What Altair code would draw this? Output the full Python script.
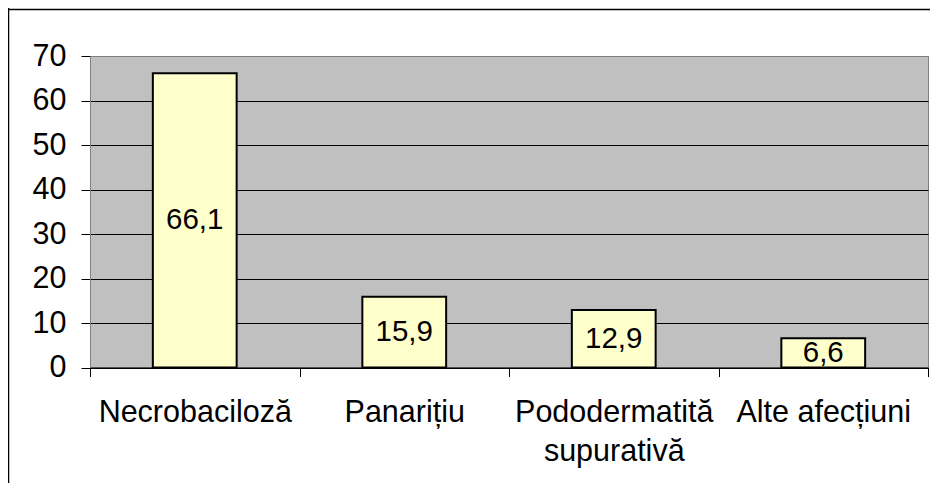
import altair as alt
import pandas as pd

categories = ["Necrobaciloză", "Panarițiu", "Pododermatită supurativă", "Alte afecțiuni"]
values = [66.1, 15.9, 12.9, 6.6]
y_ticks = [0, 10, 20, 30, 40, 50, 60, 70]

df = pd.DataFrame({"cat": categories, "val": values})

FONT = "Liberation Sans"
FS = 30.5

x_enc = alt.X(
    "cat:N",
    sort=categories,
    title=None,
    scale=alt.Scale(paddingInner=0, paddingOuter=0),
    axis=alt.Axis(
        labelAngle=0,
        tickBand="extent",
        ticks=True,
        tickSize=9,
        tickColor="black",
        domainColor="black",
        labelPadding=21,
        labelFontSize=FS,
        labelFont=FONT,
        labelColor="black",
        labelLineHeight=39,
        labelLimit=400,
        labelOverlap=False,
        labelExpr="datum.label == 'Pododermatită supurativă' ? ['Pododermatită', 'supurativă'] : datum.label",
        grid=False,
    ),
)

y_scale = alt.Scale(domain=[0, 70], nice=False)

bars = alt.Chart(df).mark_bar(
    fill="#FFFFCC", stroke="black", strokeWidth=2, width=alt.RelativeBandSize(0.4)
).encode(
    x=x_enc,
    y=alt.Y(
        "val:Q",
        scale=y_scale,
        title=None,
        axis=alt.Axis(
            values=y_ticks,
            grid=True,
            gridColor=alt.condition("datum.value == 70", alt.value("#808080"), alt.value("black")),
            gridWidth=1,
            tickSize=9,
            tickColor="black",
            domainColor="#808080",
            labelPadding=15,
            labelFontSize=FS,
            labelFont=FONT,
            labelColor="black",
        ),
    ),
)

labels = alt.Chart(df).transform_calculate(
    mid="datum.val / 2",
    lbl="replace(format(datum.val, '.1f'), '.', ',')",
).mark_text(font=FONT, fontSize=29.5, baseline="middle", align="center", color="black").encode(
    x=alt.X("cat:N", sort=categories),
    y=alt.Y("mid:Q", scale=y_scale),
    text="lbl:N",
)

one = alt.Data(values=[{}])
top_border = alt.Chart(one).mark_rule(color="black", strokeWidth=1.5).encode(
    x=alt.value(-82), x2=alt.value(850), y=alt.value(-46.5)
)
left_border = alt.Chart(one).mark_rule(color="black", strokeWidth=1.5).encode(
    x=alt.value(-81.5), y=alt.value(-48), y2=alt.value(440)
)

chart = alt.layer(bars, labels, top_border, left_border).properties(
    width=838,
    height=311.5,
    autosize=alt.AutoSizeParams(type="none"),
    padding={"left": 82, "top": 48, "right": 2, "bottom": 115},
    background="white",
).configure_view(fill="#C0C0C0", stroke="#808080", strokeWidth=1)

chart.save("out.html", embed_options={"renderer": "svg", "actions": False})
